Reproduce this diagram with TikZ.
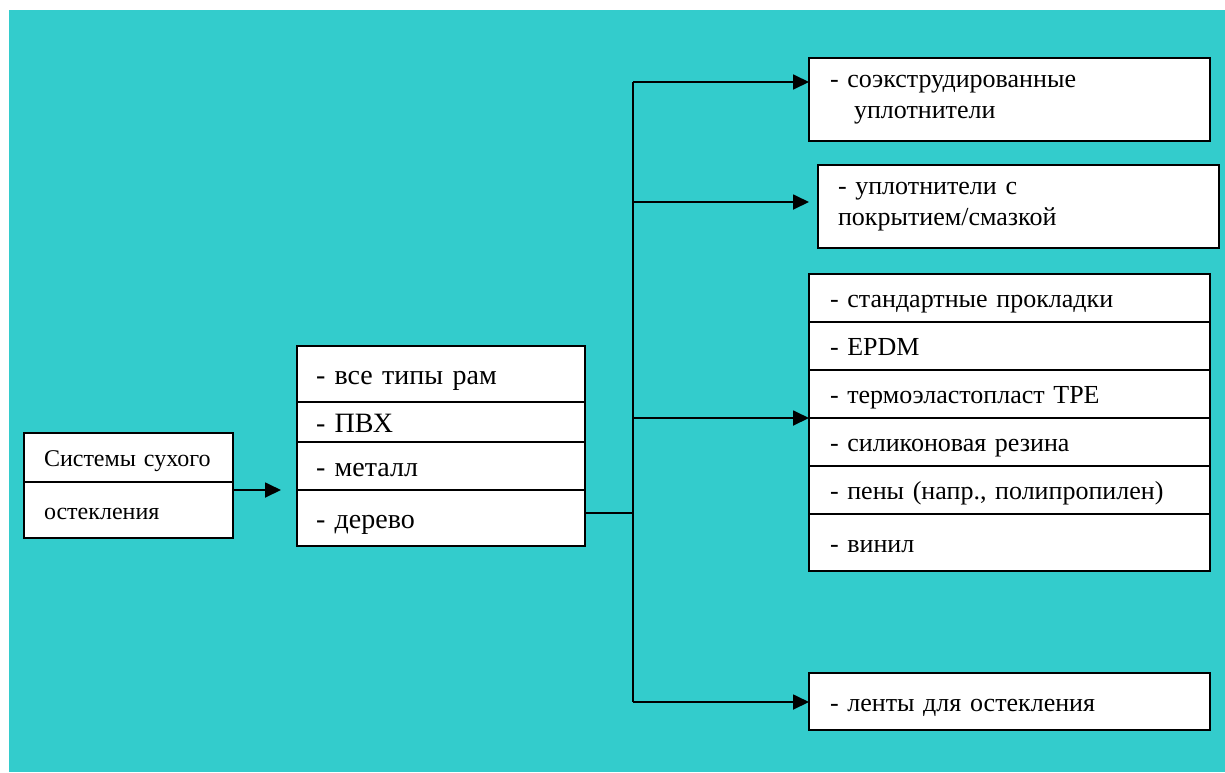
\documentclass[tikz,border=0pt]{standalone}
\usepackage{fontspec}
\setmainfont{Liberation Serif}
\usetikzlibrary{arrows.meta}
\usetikzlibrary{positioning}

\begin{document}
\begin{tikzpicture}[x=1pt, y=-1pt, node distance=0pt, every node/.style={inner sep=0,outer sep=0}]
        % Colors
        \definecolor{bgteal}{RGB}{51,204,204}

        \tikzset{
          cell/.style={draw, line width=1.8pt, fill=white, align=left},
          sys_cell/.style={cell, inner xsep=20pt, text width=169pt, text height=23pt, text depth=5pt, font=\fontsize{24}{28}\selectfont},
          frame_cell/.style={cell, inner xsep=19pt, text width=250pt, text height=26.5pt, text depth=5.5pt, font=\fontsize{28}{33}\selectfont},
          seal_cell/.style={cell, inner xsep=21pt, text width=359pt, font=\fontsize{26}{31}\selectfont},
          gasket_cell/.style={seal_cell, text height=24.7pt, text depth=5.2pt},
          link/.style={line width=1.8pt},
          arrow/.style={link, -{Triangle[length=16pt, width=15pt]}}
        }

        \useasboundingbox (0,0) rectangle (1225,772);
        \fill[bgteal] (9,10) rectangle (1225,772);

        % Left box
        \node[sys_cell, minimum height=49pt, anchor=north west] (sys_top) at (24,433) {Системы сухого};
        \node[sys_cell, minimum height=56pt, below=of sys_top] (sys_bot) {остекления};

        % Frame types
        \node[frame_cell, minimum height=56pt, anchor=north west] (frame_all) at (297,346) {- все типы рам};
        \node[frame_cell, minimum height=40pt, below=of frame_all] (frame_pvc) {- ПВХ};
        \node[frame_cell, minimum height=48pt, below=of frame_pvc] (frame_metal) {- металл};
        \node[frame_cell, minimum height=56pt, below=of frame_metal] (frame_wood) {- дерево};

        \draw[arrow, shorten >=16pt] (sys_bot.east |- frame_metal.south west) -- (frame_metal.south west);

        % Seals
        \node[seal_cell, minimum height=83pt, anchor=north west] (seal_coex) at (809,58) {- соэкструдированные\\\hspace*{24pt}уплотнители};
        \node[seal_cell, inner xsep=20pt, text width=361pt, minimum height=83pt, anchor=north west] (seal_coat) at (818,165) {- уплотнители с\\покрытием/смазкой};

        \node[gasket_cell, minimum height=48pt, anchor=north west] (gasket_std) at (809,274) {- стандартные прокладки};
        \node[gasket_cell, minimum height=48pt, below=of gasket_std] (gasket_epdm) {- EPDM};
        \node[gasket_cell, minimum height=48pt, below=of gasket_epdm] (gasket_tpe) {- термоэластопласт TPE};
        \node[gasket_cell, minimum height=48pt, below=of gasket_tpe] (gasket_sil) {- силиконовая резина};
        \node[gasket_cell, minimum height=48pt, below=of gasket_sil] (gasket_foam) {- пены (напр., полипропилен)};
        \node[gasket_cell, minimum height=57pt, below=of gasket_foam] (gasket_vinyl) {- винил};

        \node[gasket_cell, minimum height=57pt, anchor=north west] (seal_tape) at (809,673) {- ленты для остекления};

        % Trunk
        \coordinate (trunk_top) at (633,82);
        \coordinate (trunk_bot) at (633,702);
        \coordinate (fork) at (633,513);
        \coordinate (branch_coat) at (633,202);
        \coordinate (branch_gasket) at (633,418);

        \draw[link] (frame_wood.east |- fork) -- (fork);
        \draw[link] (trunk_top) -- (trunk_bot);

        \draw[arrow] (trunk_top) -- (trunk_top -| seal_coex.west);
        \draw[arrow, shorten >=9pt] (branch_coat) -- (branch_coat -| seal_coat.west);
        \draw[arrow] (branch_gasket) -- (branch_gasket -| gasket_std.west);
        \draw[arrow] (trunk_bot) -- (trunk_bot -| seal_tape.west);
      \end{tikzpicture}
\end{document}
